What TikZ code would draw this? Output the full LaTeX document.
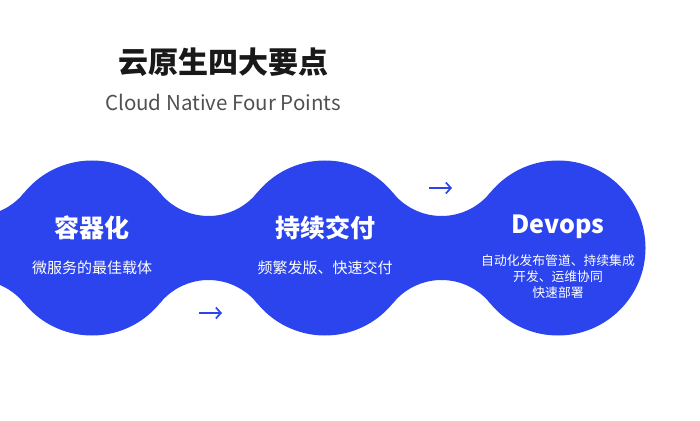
\documentclass[tikz,border=0pt]{standalone}
\usepackage{fontspec}
\setmainfont{Noto Sans CJK SC}
\usetikzlibrary{arrows.meta}
\definecolor{blobblue}{RGB}{43,68,238}
\definecolor{subgray}{RGB}{80,80,80}
\begin{document}
\begin{tikzpicture}[x=1pt,y=1pt,
  blob/.style={fill=blobblue},
  maintitle/.style={inner sep=0,text=black!90,font=\bfseries\fontsize{30}{34}\selectfont},
  subtitle/.style={inner sep=0,text=subgray,font=\fontsize{20.5}{24}\selectfont},
  headt/.style={inner sep=0,text=white,font=\bfseries\fontsize{25}{30}\selectfont},
  desct/.style={inner sep=0,text=white,font=\fontsize{15}{18}\selectfont},
  smalldesc/.style={inner sep=0,text=white,align=center,font=\fontsize{12.8}{16}\selectfont},
  flow/.style={blobblue,line width=1.7pt,-{Straight Barb[length=5pt,width=11pt,line width=1.7pt]}}]
\useasboundingbox (0,0) rectangle (700,420);
\clip (0,0) rectangle (700,420);
\foreach \cx in {-141,92,325,558}
  \fill[blob] (\cx,172) circle[radius=87.5];
\foreach \nx in {-24.5,208.5,441.5}
  \fill[blob] ([shift={(219.05:62.5)}]\nx,266.5)
     arc[start angle=219.05,end angle=320.95,radius=62.5]
     -- ([shift={(39.05:62.5)}]\nx,77.5)
     arc[start angle=39.05,end angle=140.95,radius=62.5] -- cycle;
\node[maintitle] (title) at (223,358) {云原生四大要点};
\node[subtitle] (sub) at (223,318) {Cloud Native Four Points};
\node[headt] (h1) at (92,192) {容器化};
\node[desct] (d1) at (92,152) {微服务的最佳载体};
\node[headt] (h2) at (325,192) {持续交付};
\node[desct] (d2) at (325,152) {频繁发版、快速交付};
\node[headt] (h3) at (558,193) {Devops};
\node[smalldesc] (d3) at (558,143) {自动化发布管道、持续集成\\开发、运维协同\\快速部署};
\coordinate (a1s) at (199,107);
\coordinate (a1e) at (222,107);
\coordinate (a2s) at (429,232);
\coordinate (a2e) at (452,232);
\draw[flow] (a1s) -- (a1e);
\draw[flow] (a2s) -- (a2e);
\end{tikzpicture}
\end{document}
